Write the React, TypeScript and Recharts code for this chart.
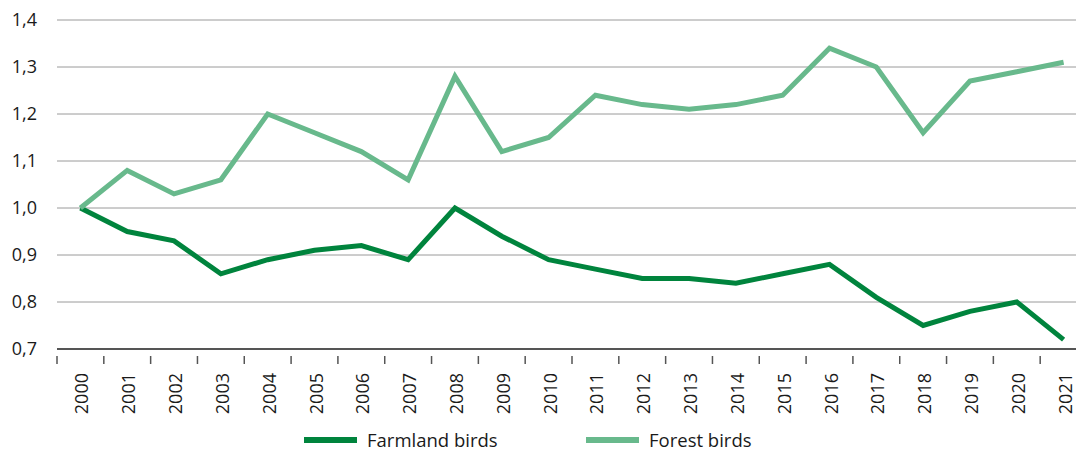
import { CartesianGrid, Line, LineChart, XAxis, YAxis } from 'recharts';

const years = [
  '2000', '2001', '2002', '2003', '2004', '2005', '2006', '2007', '2008', '2009', '2010',
  '2011', '2012', '2013', '2014', '2015', '2016', '2017', '2018', '2019', '2020', '2021',
];

const farmlandBirds = [
  1.0, 0.95, 0.93, 0.86, 0.89, 0.91, 0.92, 0.89, 1.0, 0.94, 0.89,
  0.87, 0.85, 0.85, 0.84, 0.86, 0.88, 0.81, 0.75, 0.78, 0.8, 0.72,
];

const forestBirds = [
  1.0, 1.08, 1.03, 1.06, 1.2, 1.16, 1.12, 1.06, 1.28, 1.12, 1.15,
  1.24, 1.22, 1.21, 1.22, 1.24, 1.34, 1.3, 1.16, 1.27, 1.29, 1.31,
];

const yTicks = [0.7, 0.8, 0.9, 1.0, 1.1, 1.2, 1.3, 1.4];

const FARMLAND = '#00843d';
const FOREST = '#68b98c';
const FONT = '"Open Sans", sans-serif';

const CHART_W = 1100;
const CHART_H = 420;
const MARGIN = { top: 20, right: 13, bottom: 0, left: 0 };
const Y_AXIS_W = 57;
const BAND = (CHART_W - MARGIN.left - MARGIN.right - Y_AXIS_W) / years.length;

const data = years.map((year, i) => ({
  year,
  farmland: farmlandBirds[i],
  forest: forestBirds[i],
}));

const legendItems = [
  { label: 'Farmland birds', color: FARMLAND, left: 304 },
  { label: 'Forest birds', color: FOREST, left: 586 },
];

// year label plus a tick mark on the left edge of each band
function YearTick(props: any) {
  const { x, y, payload } = props;
  const left = x - BAND / 2;
  return (
    <g>
      <line x1={left} y1={y - 1} x2={left} y2={y + 7} stroke="#555" strokeWidth={1.5} />
      <text
        x={x + 1}
        y={y + 16}
        transform={`rotate(-90, ${x + 1}, ${y + 16})`}
        textAnchor="end"
        dominantBaseline="central"
        fontFamily={FONT}
        fontSize={18}
        fill="#1a1a1a"
      >
        {payload.value}
      </text>
    </g>
  );
}

export default function App() {
  return (
    <div style={{ position: 'absolute', left: 0, top: 0, width: 1076, height: 452, overflow: 'hidden', background: '#fff' }}>
      <LineChart width={CHART_W} height={CHART_H} data={data} margin={MARGIN}>
        <CartesianGrid horizontal vertical={false} stroke="#9a9a9a" strokeWidth={1} />
        <XAxis
          dataKey="year"
          height={CHART_H - 349}
          interval={0}
          padding={{ left: BAND / 2, right: BAND / 2 }}
          tickLine={false}
          axisLine={{ stroke: '#555', strokeWidth: 2 }}
          tick={<YearTick />}
        />
        <YAxis
          width={Y_AXIS_W}
          domain={[0.7, 1.4]}
          ticks={yTicks}
          interval={0}
          axisLine={false}
          tickLine={false}
          tickSize={20}
          tickMargin={0}
          tickFormatter={(v: number) => v.toFixed(1).replace('.', ',')}
          tick={{ fontFamily: FONT, fontSize: 18, fill: '#1a1a1a' }}
        />
        <Line
          type="linear"
          dataKey="farmland"
          name="Farmland birds"
          stroke={FARMLAND}
          strokeWidth={5}
          dot={false}
          isAnimationActive={false}
        />
        <Line
          type="linear"
          dataKey="forest"
          name="Forest birds"
          stroke={FOREST}
          strokeWidth={5}
          dot={false}
          isAnimationActive={false}
        />
      </LineChart>
      {legendItems.map((it) => (
        <div
          key={it.label}
          style={{
            position: 'absolute',
            left: it.left,
            top: 430,
            height: 19,
            display: 'flex',
            alignItems: 'center',
            fontFamily: FONT,
            fontSize: 18.5,
            lineHeight: '19px',
            color: '#1a1a1a',
            whiteSpace: 'nowrap',
          }}
        >
          <span style={{ display: 'inline-block', width: 53, height: 6, background: it.color, marginRight: 10 }} />
          {it.label}
        </div>
      ))}
    </div>
  );
}
